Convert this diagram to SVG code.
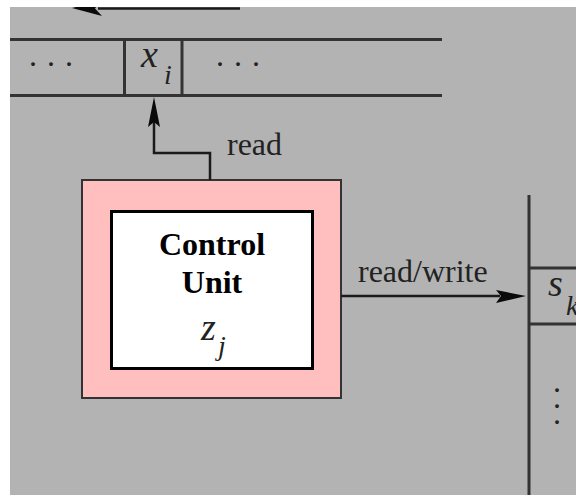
<svg xmlns="http://www.w3.org/2000/svg" width="576" height="495" viewBox="0 0 576 495">
<style>
.tape{stroke:#333;stroke-width:3;fill:none}
.conn{stroke:#1a1a1a;stroke-width:2.5;fill:none}
.head{fill:#0a0a0a}
.t{font-family:"Liberation Serif","Times New Roman",serif;font-size:32px;fill:#222}
.it{font-style:italic}
.b{font-weight:bold;fill:#000}
.big{font-size:38px}
.sub{font-size:28px}
</style>
<rect x="0" y="0" width="576" height="495" fill="#fff"/>
<rect x="10" y="7" width="566" height="488" fill="#b3b3b3"/>
<g id="top-arrow">
<line class="conn" x1="98" y1="8.5" x2="240" y2="8.5"/>
<polygon class="head" points="72,8 100,1 95,8.5 102,16"/>
</g>
<rect x="0" y="0" width="576" height="7" fill="#fff"/>
<rect x="0" y="0" width="10" height="495" fill="#fff"/>
<g id="input-tape">
<line class="tape" x1="10" y1="39.5" x2="442" y2="39.5"/>
<line class="tape" x1="10" y1="95.5" x2="442" y2="95.5"/>
<line class="tape" x1="124.5" y1="39.5" x2="124.5" y2="95.5"/>
<line class="tape" x1="182" y1="39.5" x2="182" y2="95.5"/>
<text class="t" x="29 47 65" y="66">...</text>
<text class="t" x="216 234 252" y="66">...</text>
<text class="t it big" x="141" y="67">x</text>
<text class="t it sub" x="164" y="84">i</text>
</g>
<g id="control-unit">
<rect x="82" y="180" width="259" height="218" fill="#ffbfbf" stroke="#333" stroke-width="2"/>
<rect x="111.5" y="211.5" width="201" height="157" fill="#fff" stroke="#000" stroke-width="3"/>
<text class="t b" x="212" y="255" text-anchor="middle">Control</text>
<text class="t b" x="212" y="293" text-anchor="middle">Unit</text>
<text class="t it big" x="201" y="340">z</text>
<text class="t it sub" x="218" y="355">j</text>
</g>
<g id="work-tape">
<line class="tape" x1="529" y1="195" x2="529" y2="495"/>
<line class="tape" x1="529" y1="268" x2="576" y2="268"/>
<line class="tape" x1="529" y1="324" x2="576" y2="324"/>
<text class="t it big" x="548" y="296">s</text>
<text class="t it sub" x="566" y="315">k</text>
<text class="t" x="553" y="392">.<tspan x="553" dy="16">.</tspan><tspan x="553" dy="16">.</tspan></text>
</g>
<g id="connectors">
<polyline class="conn" points="210,180 210,153 154,153 154,122"/>
<polygon class="head" points="154,97 160,127 154,122 148,127"/>
<line class="conn" x1="341" y1="296" x2="500" y2="296"/>
<polygon class="head" points="526,296 496,290 501,296 496,303"/>
<text class="t" x="227" y="155">read</text>
<text class="t" x="358" y="282">read/write</text>
</g>
</svg>
